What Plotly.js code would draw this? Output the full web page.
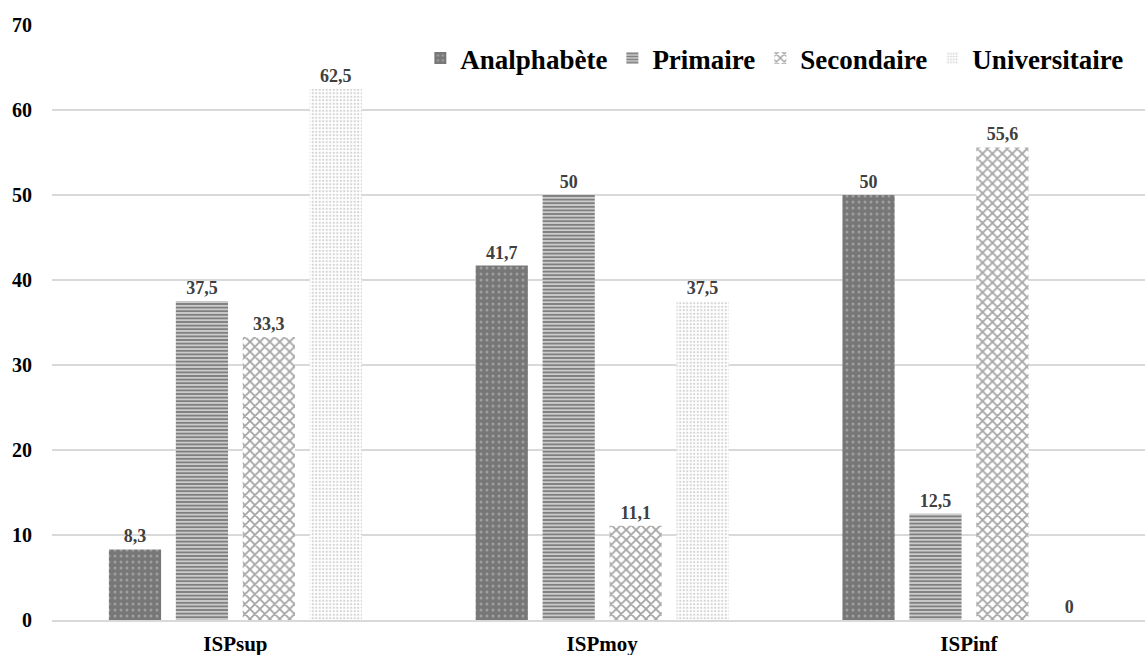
<!DOCTYPE html>
<html>
<head>
<meta charset="utf-8">
<script src="https://cdn.plot.ly/plotly-3.0.1.min.js"></script>
<style>
  html, body { margin: 0; padding: 0; background: #fff; }
  #chart { width: 1145px; height: 655px; }
</style>
</head>
<body>
<div id="chart"></div>
<script>
// Categories (x axis) and one series per education level
const categories = ['ISPsup', 'ISPmoy', 'ISPinf'];
const analphabete = [8.3, 41.7, 50];
const primaire = [37.5, 50, 12.5];
const secondaire = [33.3, 11.1, 55.6];
const universitaire = [62.5, 37.5, 0];
const seriesNames = ['Analphabète', 'Primaire', 'Secondaire', 'Universitaire'];
const yTicks = [0, 10, 20, 30, 40, 50, 60, 70];

const serif = 'Liberation Serif';

// French decimal comma for the value labels
const fmt = v => String(v).replace('.', ',');

const styles = [
  { color: '#777777', pattern: { shape: '.', fgcolor: '#c8c8c8', bgcolor: '#777777', size: 6, solidity: 0.2, fillmode: 'overlay' } },
  { color: '#ffffff', pattern: { shape: '-', fgcolor: '#000000', bgcolor: '#ffffff', size: 3.6, solidity: 0.7, fillmode: 'overlay' } },
  { color: '#ffffff', pattern: { shape: 'x', fgcolor: '#4a4a4a', bgcolor: '#ffffff', size: 7, solidity: 0.45, fillmode: 'overlay' } },
  { color: '#ffffff', pattern: { shape: '.', fgcolor: '#a8a8a8', bgcolor: '#ffffff', size: 3.5, solidity: 0.35, fillmode: 'overlay' } }
];

const allValues = [analphabete, primaire, secondaire, universitaire];

const traces = allValues.map((vals, i) => ({
  type: 'bar',
  name: seriesNames[i],
  x: categories,
  y: vals,
  text: vals.map(fmt),
  textposition: 'outside',
  cliponaxis: false,
  textfont: { family: serif, size: 18, color: '#404040', weight: 'bold' },
  marker: { color: styles[i].color, pattern: styles[i].pattern, line: { width: 0 } },
  hoverinfo: 'skip'
}));

const layout = {
  width: 1145,
  height: 655,
  margin: { l: 52, r: 0, t: 25, b: 35 },
  paper_bgcolor: '#ffffff',
  plot_bgcolor: '#ffffff',
  font: { family: serif },
  barmode: 'group',
  bargap: 0.27,
  bargroupgap: 0.22,
  showlegend: true,
  legend: {
    orientation: 'h',
    x: 0.337,
    xanchor: 'left',
    y: 0.985,
    yanchor: 'top',
    font: { family: serif, size: 27, color: '#000000', weight: 'bold' },
    bgcolor: 'rgba(0,0,0,0)',
    itemwidth: 30,
    tracegroupgap: 0
  },
  xaxis: {
    type: 'category',
    range: [-0.5, 2.48],
    showgrid: false,
    showline: true,
    linecolor: '#d9d9d9',
    linewidth: 1.5,
    ticks: '',
    ticklabelstandoff: 4,
    tickfont: { family: serif, size: 21, color: '#000000', weight: 'bold' },
    fixedrange: true
  },
  yaxis: {
    range: [0, 70],
    tickvals: yTicks,
    ticktext: yTicks.map(String),
    showgrid: true,
    gridcolor: '#d9d9d9',
    gridwidth: 1.5,
    zeroline: false,
    showline: false,
    ticks: '',
    ticklabelstandoff: 19,
    tickfont: { family: serif, size: 20, color: '#000000', weight: 'bold' },
    fixedrange: true
  }
};

Plotly.newPlot('chart', traces, layout, { displayModeBar: false, staticPlot: true });
</script>
</body>
</html>
